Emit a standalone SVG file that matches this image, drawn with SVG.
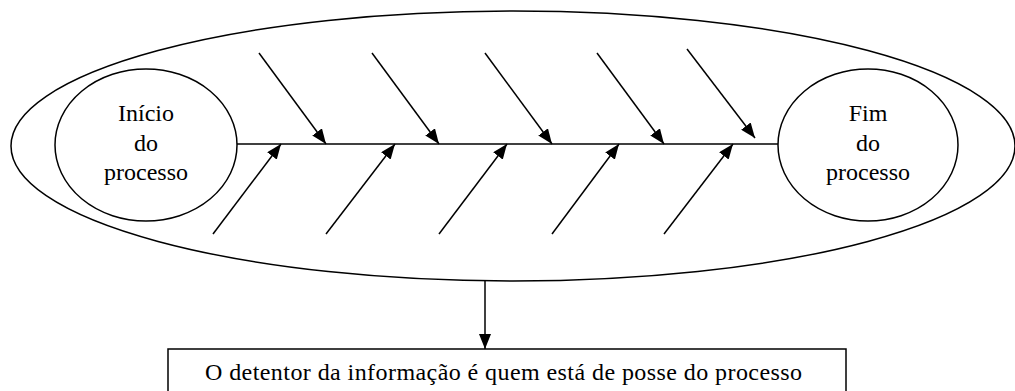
<svg xmlns="http://www.w3.org/2000/svg" width="1015" height="391" viewBox="0 0 1015 391">
<style>
.s{fill:none;stroke:#000;stroke-width:1.5}
.t{font-family:'Liberation Serif','DejaVu Serif',serif;font-size:24px;fill:#000}
.c{text-anchor:middle}
.a{stroke:#000;stroke-width:1.5;fill:none;marker-end:url(#ah)}
</style>
<defs>
<marker id="ah" markerUnits="userSpaceOnUse" markerWidth="16" markerHeight="12" refX="15" refY="6" orient="auto">
<path d="M0,0 L15,6 L0,12 z" fill="#000"/>
</marker>
</defs>
<g id="outer"><ellipse class="s" cx="513" cy="146" rx="502" ry="135"/></g>
<g id="inicio">
<ellipse class="s" cx="146" cy="145" rx="91" ry="76"/>
<text class="t c" font-family="Liberation Serif, serif" x="146" y="121">Início</text>
<text class="t c" font-family="Liberation Serif, serif" x="146" y="151">do</text>
<text class="t c" font-family="Liberation Serif, serif" x="146" y="180">processo</text>
</g>
<g id="fim">
<ellipse class="s" cx="868" cy="145" rx="90" ry="76"/>
<text class="t c" font-family="Liberation Serif, serif" x="868" y="121">Fim</text>
<text class="t c" font-family="Liberation Serif, serif" x="868" y="151">do</text>
<text class="t c" font-family="Liberation Serif, serif" x="868" y="180">processo</text>
</g>
<g id="detentor">
<rect class="s" x="168" y="349" width="678" height="60"/>
<text class="t" font-family="Liberation Serif, serif" x="205" y="380" font-size="25" textLength="597">O detentor da informação é quem está de posse do processo</text>
</g>
<g id="connectors">
<line class="s" x1="237" y1="144" x2="778" y2="144" stroke-width="2"/>
<line class="a" x1="259" y1="53" x2="326" y2="144"/>
<line class="a" x1="372" y1="53" x2="439" y2="144"/>
<line class="a" x1="485" y1="53" x2="552" y2="144"/>
<line class="a" x1="597" y1="53" x2="664" y2="144"/>
<line class="a" x1="687" y1="49" x2="755" y2="138"/>
<line class="a" x1="213" y1="234" x2="281" y2="144"/>
<line class="a" x1="326" y1="234" x2="395" y2="144"/>
<line class="a" x1="439" y1="234" x2="507" y2="144"/>
<line class="a" x1="552" y1="234" x2="619" y2="144"/>
<line class="a" x1="664" y1="234" x2="733" y2="144"/>
<line class="a" x1="485" y1="281" x2="485" y2="349"/>
</g>
</svg>
